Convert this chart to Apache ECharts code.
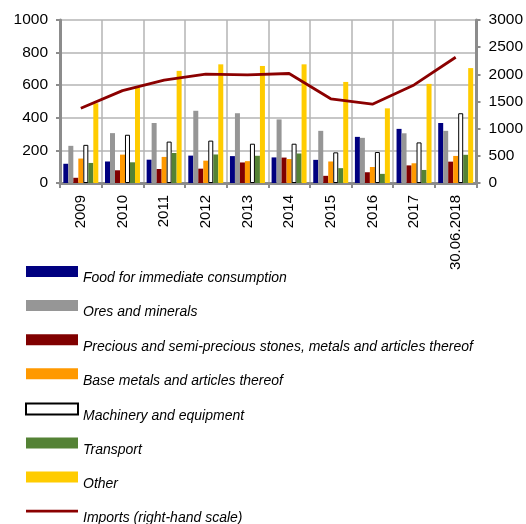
<!DOCTYPE html>
<html>
<head>
<meta charset="utf-8">
<script src="https://cdn.jsdelivr.net/npm/echarts@6/dist/echarts.min.js"></script>
<style>
  html, body { margin: 0; padding: 0; background: #fff; }
  #chart { width: 526px; height: 524px; }
</style>
</head>
<body>
<div id="chart"></div>
<script>
// Import structure by product group (left scale) and total imports (right scale)
const categories = ['2009', '2010', '2011', '2012', '2013', '2014', '2015', '2016', '2017', '30.06.2018'];

const food      = [118, 132, 143, 168, 165, 157, 142, 283, 332, 368];
const ores      = [228, 306, 368, 443, 428, 390, 320, 277, 305, 320];
const precious  = [32, 78, 86, 88, 126, 156, 44, 66, 108, 131];
const baseMetal = [150, 174, 160, 137, 134, 147, 132, 98, 121, 166];
const machinery = [234, 296, 254, 260, 241, 241, 188, 190, 249, 428];
const transport = [123, 127, 184, 175, 167, 181, 91, 56, 80, 173];
const other     = [489, 586, 688, 728, 718, 728, 620, 458, 608, 705];
const imports   = [1375, 1700, 1895, 2005, 1990, 2015, 1550, 1450, 1805, 2315];

const leftTicks = { min: 0, max: 1000, interval: 200 };
const rightTicks = { min: 0, max: 3000, interval: 500 };

const barSeries = [
  { name: 'Food for immediate consumption', data: food, color: '#000080' },
  { name: 'Ores and minerals', data: ores, color: '#969696' },
  { name: 'Precious and semi-precious stones, metals and articles thereof', data: precious, color: '#800000' },
  { name: 'Base metals and articles thereof', data: baseMetal, color: '#FF9900' },
  { name: 'Machinery and equipment', data: machinery, color: '#FFFFFF', border: '#000000' },
  { name: 'Transport', data: transport, color: '#548235' },
  { name: 'Other', data: other, color: '#FFCC00' }
];
const lineName = 'Imports (right-hand scale)';

const axisGray = '#8c8c8c';
const gridGray = '#b4b4b4';
const font = 'Liberation Sans, Arial, sans-serif';

const series = barSeries.map(s => ({
  name: s.name,
  type: 'bar',
  yAxisIndex: 0,
  data: s.data,
  barGap: '0%',
  barCategoryGap: '16%',
  itemStyle: {
    color: s.color,
    borderColor: s.border || s.color,
    borderWidth: s.border ? 1 : 0
  }
}));

series.push({
  name: lineName,
  type: 'line',
  yAxisIndex: 1,
  data: imports,
  symbol: 'none',
  z: 5,
  lineStyle: { color: '#8B0000', width: 2.8 },
  itemStyle: { color: '#8B0000' }
});

// thin horizontal stroke inside a 52x11 box, used as the line's legend key
const lineKey = 'path://M0,0 M52,11 M0,4 L52,4 L52,6.8 L0,6.8 Z';

const chart = echarts.init(document.getElementById('chart'), null, { renderer: 'canvas' });
chart.setOption({
  animation: false,
  backgroundColor: '#fff',
  grid: { left: 60, right: 48, top: 20, height: 163, containLabel: false },
  legend: {
    orient: 'vertical',
    left: 25,
    top: 266,
    height: 300,
    padding: 0,
    itemWidth: 52,
    itemHeight: 11,
    itemGap: 14.6,
    data: barSeries.map(s => ({ name: s.name, icon: 'rect' })).concat([{ name: lineName, icon: lineKey }]),
    formatter: '{t|{name}}',
    textStyle: {
      rich: {
        t: {
          fontFamily: font,
          fontStyle: 'italic',
          fontSize: 14,
          color: '#000',
          lineHeight: 28,
          verticalAlign: 'bottom'
        }
      }
    },
    selectedMode: false
  },
  xAxis: {
    type: 'category',
    data: categories,
    boundaryGap: true,
    axisLine: { show: true, lineStyle: { color: axisGray, width: 3 } },
    axisTick: { show: true, length: 5, lineStyle: { color: axisGray, width: 2 } },
    splitLine: { show: true, lineStyle: { color: gridGray, width: 1.5 } },
    axisLabel: {
      rotate: 90,
      margin: 12,
      fontFamily: font,
      fontSize: 15,
      color: '#000',
      interval: 0
    }
  },
  yAxis: [
    {
      type: 'value',
      position: 'left',
      min: leftTicks.min,
      max: leftTicks.max,
      interval: leftTicks.interval,
      axisLine: { show: true, lineStyle: { color: axisGray, width: 3 } },
      axisTick: { show: true, length: 4, lineStyle: { color: axisGray, width: 2 } },
      splitLine: { show: true, lineStyle: { color: gridGray, width: 1.5 } },
      axisLabel: { margin: 12, fontFamily: font, fontSize: 15.5, color: '#000', formatter: v => String(v) }
    },
    {
      type: 'value',
      position: 'right',
      min: rightTicks.min,
      max: rightTicks.max,
      interval: rightTicks.interval,
      axisLine: { show: true, lineStyle: { color: axisGray, width: 3 } },
      axisTick: { show: true, length: 4, lineStyle: { color: axisGray, width: 2 } },
      splitLine: { show: false },
      axisLabel: { margin: 12, fontFamily: font, fontSize: 15.5, color: '#000', formatter: v => String(v) }
    }
  ],
  series: series
});
</script>
</body>
</html>
